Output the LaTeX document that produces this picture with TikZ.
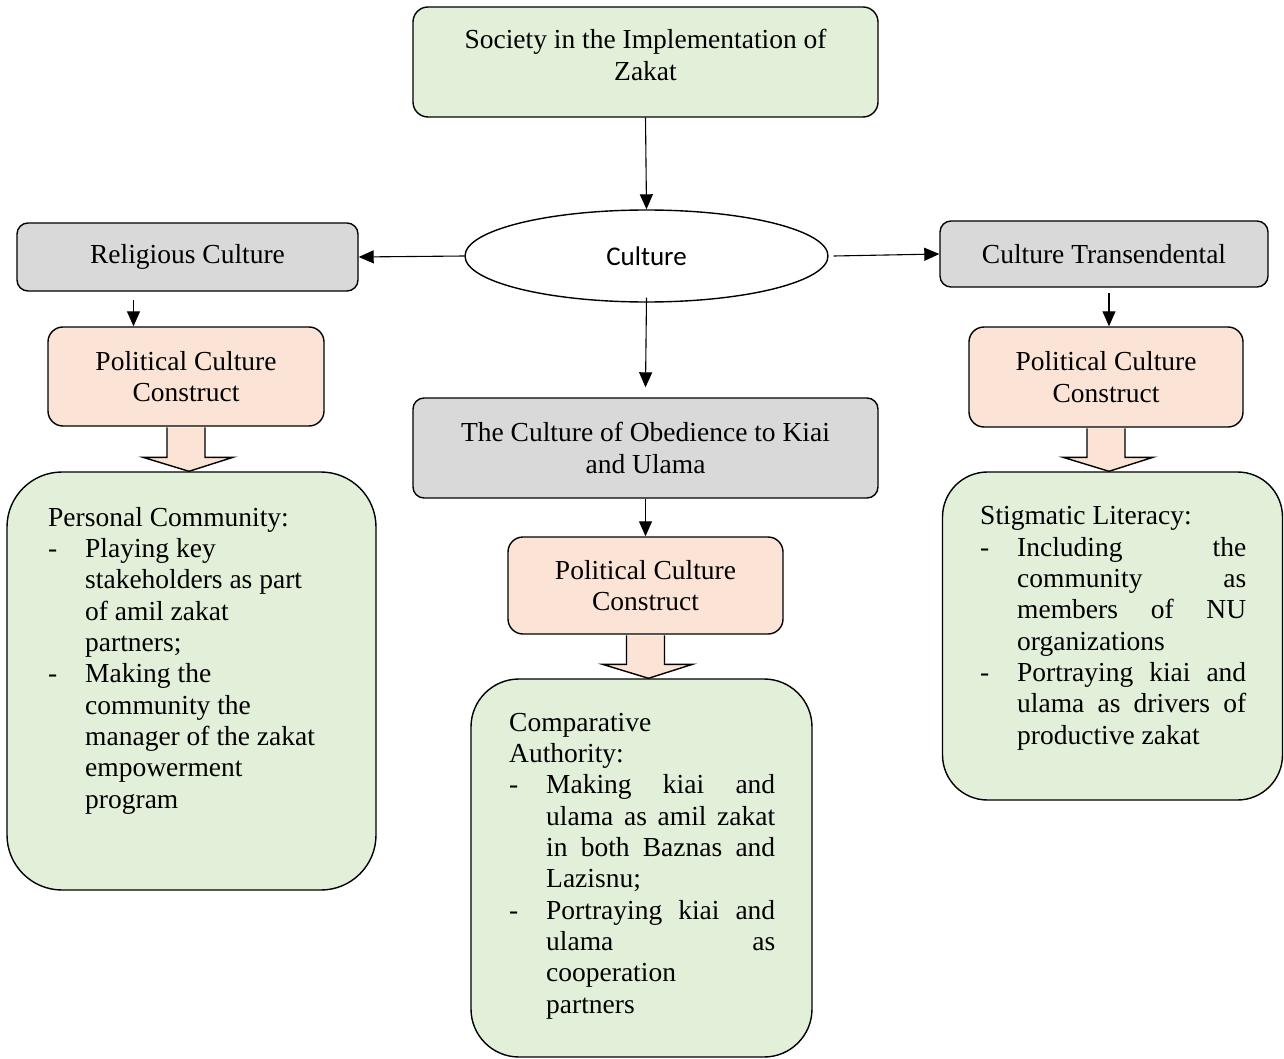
\documentclass[tikz,border=0pt]{standalone}
\usepackage{fontspec}
\setmainfont{Liberation Serif}
\newfontfamily\calfont{Carlito}
\usetikzlibrary{shapes.geometric,arrows.meta,calc}
\definecolor{gfill}{HTML}{E2EFD9}
\definecolor{pfill}{HTML}{FBE4D5}
\definecolor{grfill}{HTML}{D9D9D9}
\newlength\colw
\setlength\colw{229pt}
\newcommand\jl[1]{\makebox[\colw][s]{#1}}
\newcommand\bul{\makebox[37pt][l]{-}}
\newcommand\ind{\hspace*{37pt}}
\newcommand\blockarr[2]{%
  \draw[barrow] let \p1=(#1.south), \p2=(#2.north) in
    (\x1-19pt,\y1-0.6pt) -- (\x1-19pt,\y2+14pt) -- (\x1-43pt,\y2+14pt) --
    (\x1+3pt,\y2) -- (\x1+47pt,\y2+14pt) -- (\x1+19pt,\y2+14pt) -- (\x1+19pt,\y1-0.6pt);}
\begin{document}
\begin{tikzpicture}[x=1pt,y=-1pt,
  font=\fontsize{27.5}{31.3}\selectfont,
  box/.style={draw, line width=1.4pt, inner sep=0pt, align=center},
  greenbox/.style={box, fill=gfill},
  pinkbox/.style={box, fill=pfill, rounded corners=15pt},
  graybox/.style={box, fill=grfill, rounded corners=11pt},
  arr/.style={line width=1.1pt, -{Triangle[length=15pt,width=13pt]}},
  barrow/.style={draw, line width=1.4pt, fill=pfill, line join=miter},
  listtxt/.style={anchor=base west, align=left, inner sep=0pt},
  plaintxt/.style={align=center, inner sep=0pt}]
\useasboundingbox (0,0) rectangle (1284,1059);

% top
\node[greenbox, rounded corners=15pt, minimum width=465pt, minimum height=110pt] (top) at (645.5,62) {};
\node[plaintxt] (toptxt) at (645.5,55) {Society in the Implementation of\\Zakat};

% culture ellipse
\node[draw, line width=1.4pt, ellipse, minimum width=363pt, minimum height=92pt, inner sep=0pt,
  font=\calfont\fontsize{27}{32}\selectfont] (cul) at (646.5,256) {Culture};

% second row
\node[graybox, minimum width=341pt, minimum height=68pt] (rel) at (187.5,257) {Religious Culture};
\node[graybox, minimum width=328pt, minimum height=66pt] (ct) at (1104,254) {Culture Transendental};
\node[graybox, minimum width=465pt, minimum height=100pt] (obed) at (645.5,448) {The Culture of Obedience to Kiai\\and Ulama};

% pink
\node[pinkbox, minimum width=276pt, minimum height=99pt] (pc1) at (186,376.5) {Political Culture\\Construct};
\node[pinkbox, minimum width=275pt, minimum height=97pt] (pc2) at (645.5,585.5) {Political Culture\\Construct};
\node[pinkbox, minimum width=274pt, minimum height=100pt] (pc3) at (1106,377) {Political Culture\\Construct};

% green lists
\node[greenbox, rounded corners=55pt, minimum width=369pt, minimum height=418pt] (g1) at (191.5,681) {};
\node[greenbox, rounded corners=48pt, minimum width=341pt, minimum height=378pt] (g2) at (641.5,868) {};
\node[greenbox, rounded corners=45pt, minimum width=340pt, minimum height=328pt] (g3) at (1112.5,636) {};

% (base anchor = baseline of last line)
\node[listtxt] (g1t) at (48,808) {Personal Community:\\
\bul Playing key\\
\ind stakeholders as part\\
\ind of amil zakat\\
\ind partners;\\
\bul Making the\\
\ind community the\\
\ind manager of the zakat\\
\ind empowerment\\
\ind program};

\node[listtxt] (g2t) at (509,1013) {Comparative\\
Authority:\\
\bul\jl{Making kiai and}\\
\ind\jl{ulama as amil zakat}\\
\ind\jl{in both Baznas and}\\
\ind Lazisnu;\\
\bul\jl{Portraying kiai and}\\
\ind\jl{ulama as}\\
\ind cooperation\\
\ind partners};

\node[listtxt] (g3t) at (980,744) {Stigmatic Literacy:\\
\bul\jl{Including the}\\
\ind\jl{community as}\\
\ind\jl{members of NU}\\
\ind organizations\\
\bul\jl{Portraying kiai and}\\
\ind\jl{ulama as drivers of}\\
\ind productive zakat};

% connectors
\draw[arr] (top.south) -- (cul.north);
\draw[arr] (cul.west) -- (rel.east);
\draw[arr] ([xshift=5pt]cul.east) -- (ct.west);
\draw[arr] ([yshift=5pt]cul.south) -- ([yshift=10pt]obed.north);
\draw[arr] ([xshift=-54pt,yshift=-8pt]rel.south) -- ([xshift=-54pt]rel.south |- pc1.north);
\draw[arr] ([xshift=5pt,yshift=-5pt]ct.south) -- ([xshift=5pt]ct.south |- pc3.north);
\draw[arr] (obed.south) -- (obed.south |- pc2.north);

% block arrows
\blockarr{pc1}{g1}
\blockarr{pc2}{g2}
\blockarr{pc3}{g3}
\end{tikzpicture}
\end{document}
